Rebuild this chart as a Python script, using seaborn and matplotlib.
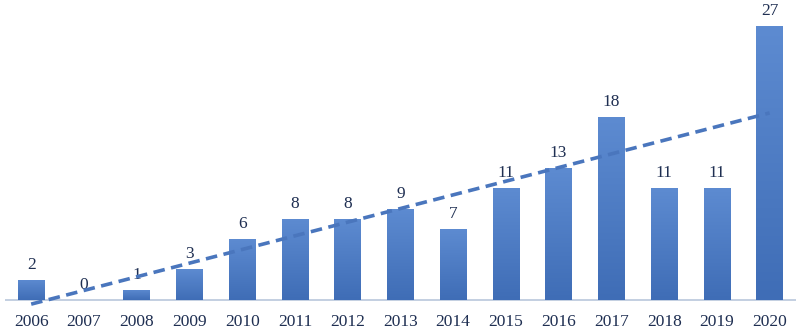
import numpy as np
import pandas as pd
import matplotlib
matplotlib.use("Agg")
import matplotlib.pyplot as plt
import seaborn as sns
from matplotlib.colors import LinearSegmentedColormap

years = ["2006", "2007", "2008", "2009", "2010", "2011", "2012", "2013",
         "2014", "2015", "2016", "2017", "2018", "2019", "2020"]
counts = [2, 0, 1, 3, 6, 8, 8, 9, 7, 11, 13, 18, 11, 11, 27]

df = pd.DataFrame({"year": years, "count": counts})

sns.set_theme(style="white")
plt.rcParams["font.family"] = ["Liberation Serif", "DejaVu Serif"]

fig = plt.figure(figsize=(8, 3.34), dpi=100)
ax = fig.add_axes([0.006, 0.072, 0.989, 0.928])

sns.barplot(data=df, x="year", y="count", color="#4f7cc4", width=0.5,
            ax=ax, saturation=1)

cmap = LinearSegmentedColormap.from_list("g", ["#3f6db6", "#5d8bd1"])
grad = np.linspace(0, 1, 256).reshape(-1, 1)
for p in ax.patches:
    x0, y0 = p.get_x(), p.get_y()
    w, h = p.get_width(), p.get_height()
    if h <= 0:
        continue
    p.set_edgecolor("none")
    im = ax.imshow(grad, cmap=cmap, origin="lower", aspect="auto",
                   extent=[x0, x0 + w, y0, y0 + h], zorder=p.get_zorder() + 0.1)
    im.set_clip_path(p)

ax.bar_label(ax.containers[0], labels=[str(c) for c in counts], padding=5,
             fontsize=12.5, color="#1f2f52")

# linear trend line
xs = np.arange(len(counts))
slope, intercept = np.polyfit(xs, counts, 1)
ax.plot(xs, slope * xs + intercept, linestyle=(0, (3.2, 1.8)), color="#4a76bd",
        linewidth=2.6, zorder=5)

ax.axhline(0, color="#b9c7dc", linewidth=1.2, zorder=1)

ax.set_xlim(-0.5, len(counts) - 0.5)
ax.set_ylim(-1, 29.56)
ax.set_xlabel("")
ax.set_ylabel("")
ax.set_yticks([])
for s in ax.spines.values():
    s.set_visible(False)
ax.tick_params(axis="x", length=0, pad=3, labelsize=12.5, labelcolor="#1f2f52")

fig.savefig("out.png", dpi=100)
